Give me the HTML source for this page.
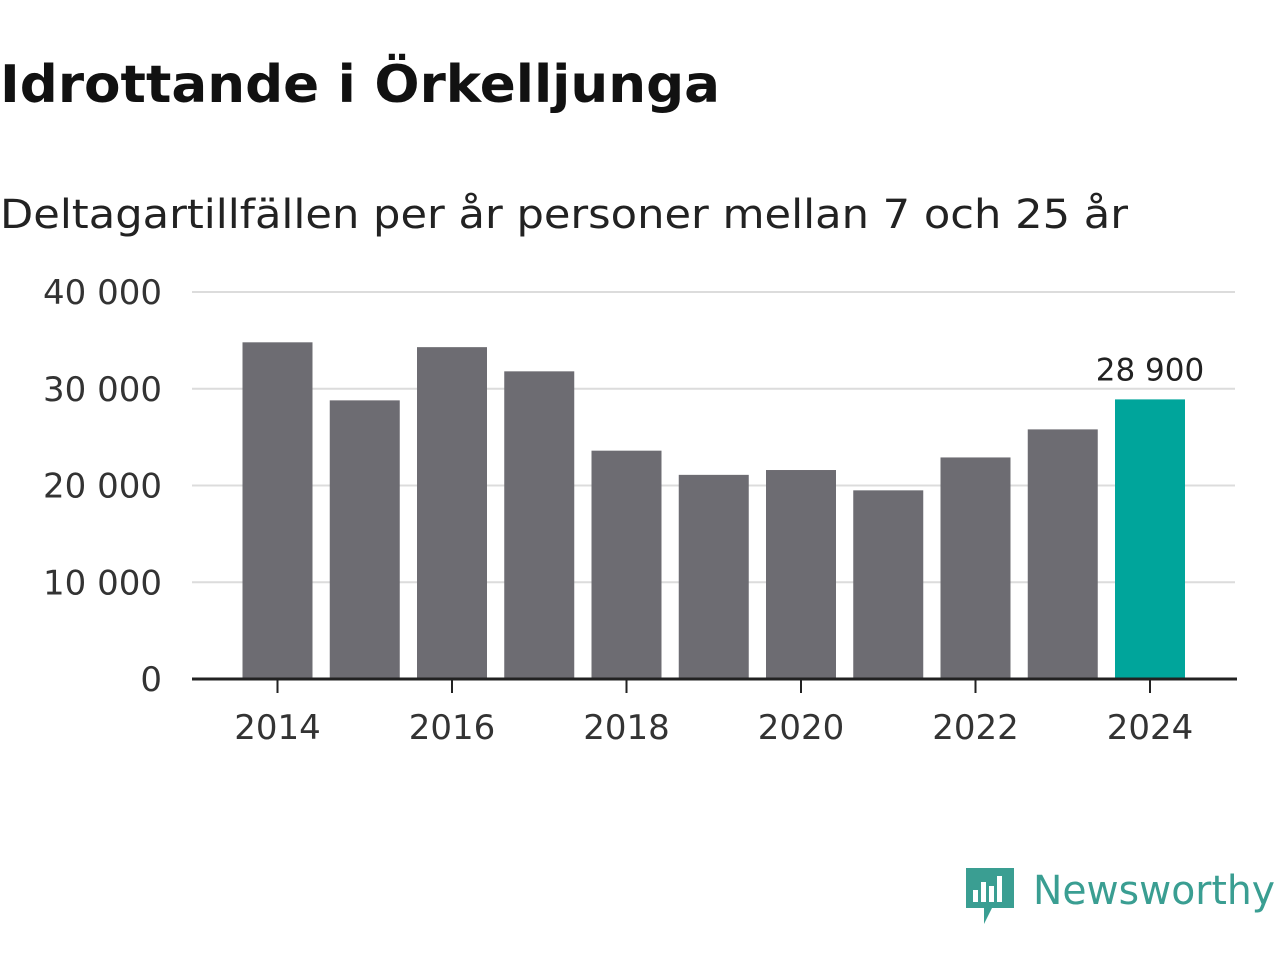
<!DOCTYPE html>
<html><head><meta charset="utf-8"><style>
body{margin:0;background:#fff;width:1280px;height:960px;overflow:hidden;font-family:"DejaVu Sans","Liberation Sans",sans-serif}
</style></head><body>
<svg width="1280" height="960">
<text x="0" y="102" font-size="52" font-weight="bold" fill="#111" textLength="720" lengthAdjust="spacingAndGlyphs">Idrottande i Örkelljunga</text>
<text x="0" y="228" font-size="40" fill="#222" textLength="1128" lengthAdjust="spacingAndGlyphs">Deltagartillfällen per år personer mellan 7 och 25 år</text>
<g id="grid"></g><g id="bars"></g><g id="xaxis"></g>
<g>
<path d="M966 868h48v40h-22l-8 16v-16h-18z" fill="#3a9e92"/>
<rect x="973" y="890" width="5" height="12" fill="#fff"/><rect x="981" y="882" width="5" height="20" fill="#fff"/><rect x="989" y="886" width="5" height="16" fill="#fff"/><rect x="997" y="876" width="5" height="26" fill="#fff"/>
<text x="1033" y="904" font-size="40" fill="#3a9e92" textLength="242" lengthAdjust="spacingAndGlyphs">Newsworthy</text>
</g>
</svg>
<script>
const years=[2014,2015,2016,2017,2018,2019,2020,2021,2022,2023,2024];
const values=[34800,28800,34300,31800,23600,21100,21600,19500,22900,25800,28900];
const yTicks=[0,10000,20000,30000,40000];
const yLabels=["0","10 000","20 000","30 000","40 000"];
const xTicks=[2014,2016,2018,2020,2022,2024];
const ns="http://www.w3.org/2000/svg";
const y=v=>679-v*387/40000;
const x=yr=>277.5+(yr-2014)*87.25;
function mk(t,a,p){const e=document.createElementNS(ns,t);for(const k in a)e.setAttribute(k,a[k]);p.appendChild(e);return e;}
const g=document.getElementById('grid'),b=document.getElementById('bars'),xa=document.getElementById('xaxis');
yTicks.forEach((v,i)=>{
 if(v>0){const l=mk('line',{x1:192,x2:1235,y1:y(v),y2:y(v),stroke:'#dcdcdc','stroke-width':2},g);
 
 }
 const t=mk('text',{x:162,y:y(v)+12,'font-size':34,fill:'#333','text-anchor':'end'},g);t.textContent=yLabels[i];
 
 
});
years.forEach((yr,i)=>{
 const last=i===years.length-1;
 const r=mk('rect',{x:x(yr)-35,y:y(values[i]),width:70,height:679-y(values[i]),fill:last?'#00a59b':'#6d6c72'},b);
 
 
 if(last){const t=mk('text',{x:x(yr),y:y(values[i])-19,'font-size':31,fill:'#222','text-anchor':'middle'},b);
 t.textContent=values[i].toLocaleString('sv-SE').replace(/\s/g,' ');
 
 }
});
const ax=mk('line',{x1:192,x2:1237,y1:679,y2:679,stroke:'#222','stroke-width':3},xa);


xTicks.forEach(yr=>{
 mk('line',{x1:x(yr),x2:x(yr),y1:679,y2:693,stroke:'#222','stroke-width':2},xa);
 const t=mk('text',{x:x(yr),y:739,'font-size':34,fill:'#333','text-anchor':'middle'},xa);t.textContent=yr;
 
 
});
</script>
</body></html>
